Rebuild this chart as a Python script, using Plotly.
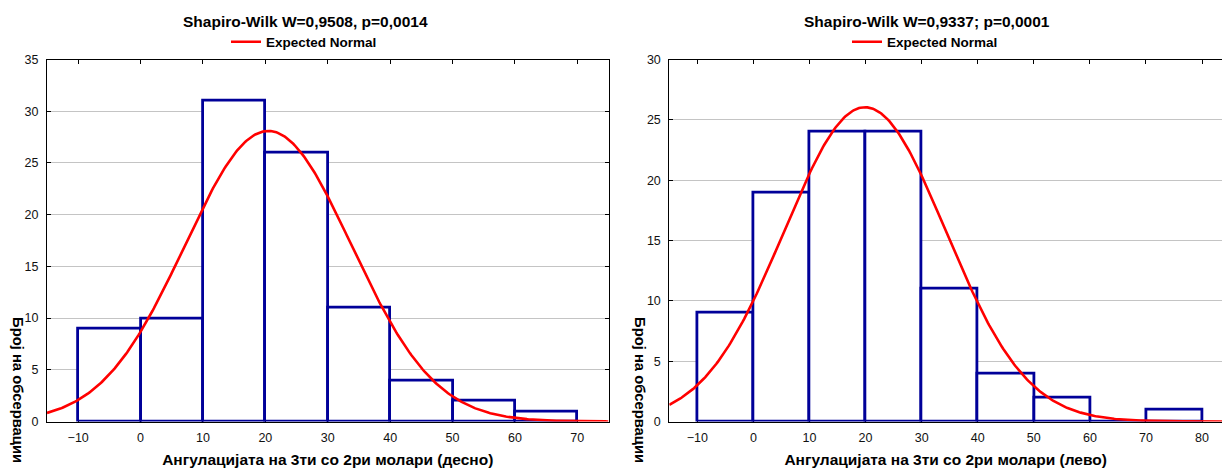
import numpy as np
import plotly.graph_objects as go

# ---------------- data ----------------
bin_width = 10
bins_right = [-10, 0, 10, 20, 30, 40, 50, 60]          # (десно)
counts_right = [9, 10, 31, 26, 11, 4, 2, 1]
bins_left = [-10, 0, 10, 20, 30, 40, 50, 60, 70]       # (лево)
counts_left = [9, 19, 24, 24, 11, 4, 2, 0, 1]

x_ticks_1 = [-10, 0, 10, 20, 30, 40, 50, 60, 70]
x_ticks_2 = [-10, 0, 10, 20, 30, 40, 50, 60, 70, 80]
y_ticks_1 = [0, 5, 10, 15, 20, 25, 30, 35]
y_ticks_2 = [0, 5, 10, 15, 20, 25, 30]

# Expected-normal parameters (estimated from the drawn curves)
n_obs = 94
mean_1, sd_1 = 20.46, 13.35
mean_2, sd_2 = 19.9, 14.4

title_1 = "Shapiro-Wilk W=0,9508, p=0,0014"
title_2 = "Shapiro-Wilk W=0,9337; p=0,0001"
xtitle_1 = "Ангулацијата на 3ти со 2ри молари (десно)"
xtitle_2 = "Ангулацијата на 3ти со 2ри молари (лево)"
ytitle = "Број на обсервации"
legend_name = "Expected Normal"

# ---------------- styling ----------------
W, H = 1222, 470
BLUE = "#000099"
RED = "#FF0000"
FONT = "Arial, Liberation Sans, sans-serif"


def px_x(p):
    return p / W


def px_y(p):
    return (H - p) / H


def expected(xs, m, s):
    return n_obs * bin_width / (s * np.sqrt(2 * np.pi)) * np.exp(-((xs - m) ** 2) / (2 * s * s))


xr1 = [-15, 75]
xr2 = [-15, 83.56]
xs1 = np.linspace(xr1[0], xr1[1], 400)
xs2 = np.linspace(xr2[0], xr2[1], 400)

fig = go.Figure()
fig.add_trace(go.Bar(x=bins_right, y=counts_right, width=bin_width, offset=0,
                     marker=dict(color="white", line=dict(color=BLUE, width=2.8)),
                     showlegend=False, xaxis="x", yaxis="y"))
fig.add_trace(go.Scatter(x=xs1, y=expected(xs1, mean_1, sd_1), mode="lines",
                         line=dict(color=RED, width=2.6), name=legend_name,
                         legend="legend", xaxis="x", yaxis="y"))
fig.add_trace(go.Bar(x=bins_left, y=counts_left, width=bin_width, offset=0,
                     marker=dict(color="white", line=dict(color=BLUE, width=2.8)),
                     showlegend=False, xaxis="x2", yaxis="y2"))
fig.add_trace(go.Scatter(x=xs2, y=expected(xs2, mean_2, sd_2), mode="lines",
                         line=dict(color=RED, width=2.6), name=legend_name,
                         legend="legend2", xaxis="x2", yaxis="y2"))

ydom = [px_y(421.5), px_y(59.5)]
tickfont = dict(family=FONT, size=12.5, color="#111111")
xcommon = dict(showgrid=False, zeroline=False, showline=True, linecolor="black", linewidth=1,
               ticks="inside", ticklen=4, tickcolor="black", mirror="ticks",
               tickfont=tickfont, layer="below traces", ticklabelstandoff=4,
               title=dict(font=dict(family=FONT, size=15.5, color="black", weight="bold"), standoff=10))
ycommon = dict(showgrid=True, gridcolor="#C4C4C4", gridwidth=1, zeroline=False, showline=True,
               linecolor="black", linewidth=1, ticks="inside", ticklen=4, tickcolor="black",
               tickfont=tickfont, ticklabelstandoff=5, domain=ydom)

fig.update_layout(
    width=W, height=H, autosize=False,
    margin=dict(l=0, r=0, t=0, b=0, autoexpand=False),
    paper_bgcolor="white", plot_bgcolor="white",
    bargap=0, barmode="overlay",
    xaxis=dict(xcommon, domain=[px_x(47), px_x(608.5)], range=xr1, tickvals=x_ticks_1,
               anchor="y", title_text=xtitle_1),
    yaxis=dict(ycommon, range=[0, 35], tickvals=y_ticks_1, anchor="x", mirror="ticks"),
    xaxis2=dict(xcommon, domain=[px_x(669.3), 1.0], range=xr2, tickvals=x_ticks_2,
                anchor="y2", title_text=xtitle_2),
    yaxis2=dict(ycommon, range=[0, 30], tickvals=y_ticks_2, anchor="x2", mirror=False),
    legend=dict(x=px_x(226), y=px_y(42), xanchor="left", yanchor="middle",
                bgcolor="rgba(0,0,0,0)", font=dict(family=FONT, size=13.5, color="black", weight="bold")),
    legend2=dict(x=px_x(847), y=px_y(42), xanchor="left", yanchor="middle",
                 bgcolor="rgba(0,0,0,0)", font=dict(family=FONT, size=13.5, color="black", weight="bold")),
    annotations=[
        dict(text=title_1, x=px_x(305.5), y=px_y(21.5), xref="paper", yref="paper",
             xanchor="center", yanchor="middle", showarrow=False,
             font=dict(family=FONT, size=15.5, color="black", weight="bold")),
        dict(text=title_2, x=px_x(927), y=px_y(21.5), xref="paper", yref="paper",
             xanchor="center", yanchor="middle", showarrow=False,
             font=dict(family=FONT, size=15.5, color="black", weight="bold")),
        dict(text=ytitle, x=px_x(18), y=px_y(315), xref="paper", yref="paper",
             xanchor="center", yanchor="top", textangle=90, showarrow=False,
             font=dict(family=FONT, size=14.8, color="black", weight="bold")),
        dict(text=ytitle, x=px_x(640), y=px_y(315), xref="paper", yref="paper",
             xanchor="center", yanchor="top", textangle=90, showarrow=False,
             font=dict(family=FONT, size=14.8, color="black", weight="bold")),
    ],
)

fig.write_html("out.html")
